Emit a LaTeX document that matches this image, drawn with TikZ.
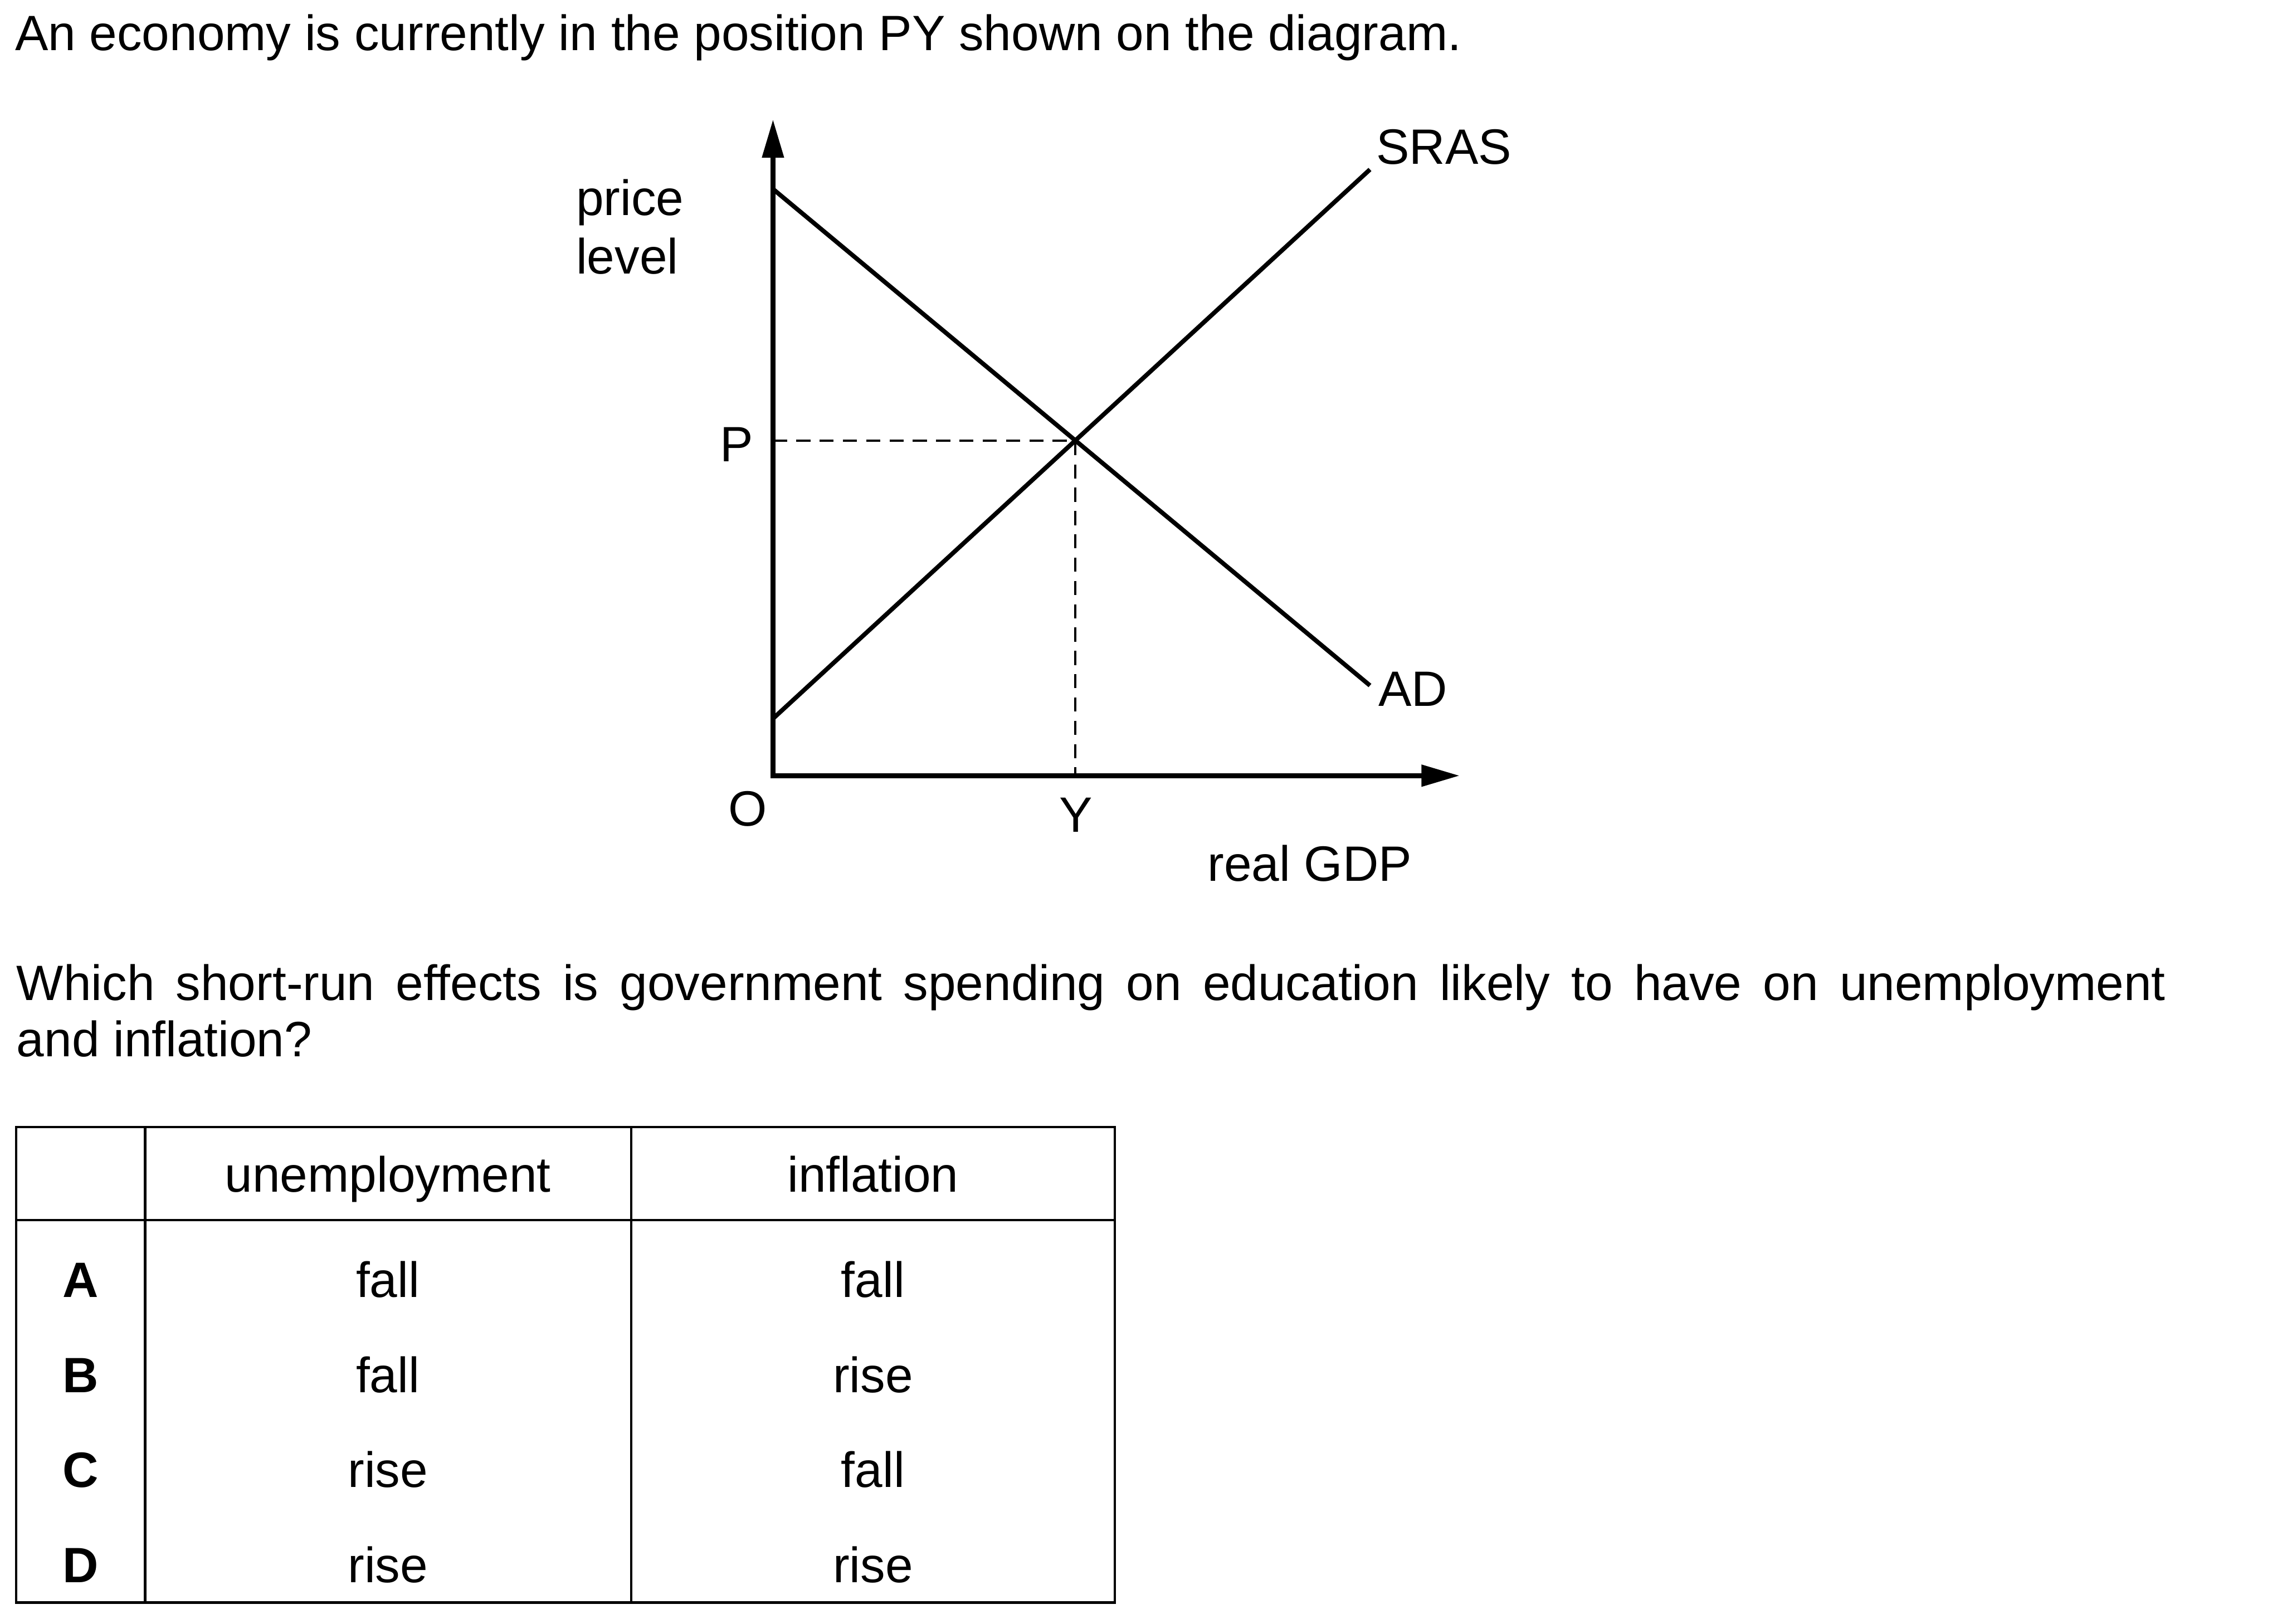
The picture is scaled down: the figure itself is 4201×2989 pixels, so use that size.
\documentclass[tikz,border=0pt]{standalone}
\usepackage{fontspec}
\setmainfont{Liberation Sans}
\usetikzlibrary{arrows.meta}
\newcommand{\qfont}{\fontsize{26}{30.7}\selectfont}

\begin{document}
\begin{tikzpicture}[x=0.01cm,y=-0.01cm,>={Triangle[length=20pt,width=11pt]},
    every node/.style={inner sep=0pt,font=\qfont},
    axis/.style={line width=2.5pt},
    curve/.style={line width=2.3pt},
    guide/.style={line width=1.2pt,dash pattern=on 7.4pt off 4.8pt},
    rule/.style={line width=1.3pt}]
  \useasboundingbox (0,0) rectangle (4201,2989);
  \node[anchor=base west] (intro) at (27,93) {An economy is currently in the position PY shown on the diagram.};

  % axes
  \coordinate (O) at (1423,1428);
  \coordinate (ytop) at (1423,220);
  \coordinate (xend) at (2687,1428);
  \draw[axis,<->] (ytop) -- (O) -- (xend);

  % AD and SRAS
  \coordinate (ad1) at (1423,348);
  \coordinate (ad2) at (2522,1262);
  \coordinate (sras1) at (1423,1323);
  \coordinate (sras2) at (2522,312);
  \draw[curve] (ad1) -- (ad2);
  \draw[curve] (sras1) -- (sras2);
  \coordinate (E) at (intersection of ad1--ad2 and sras1--sras2);
  \coordinate (Pax) at (O |- E);
  \coordinate (Yax) at (E |- O);
  \draw[guide] (Pax) -- (E) -- (Yax);

  % labels
  \node[anchor=north west,align=left] (price) at (1060,329) {price\\level};
  \node[anchor=base] (plbl) at (1356,850) {P};
  \node[anchor=base] (olbl) at (1377,1521) {O};
  \node[anchor=base] (ylbl) at (1981,1532) {Y};
  \node[anchor=base] (gdp) at (2411,1622) {real GDP};
  \node[anchor=base west] (sraslbl) at (2533,302) {SRAS};
  \node[anchor=base west] (adlbl) at (2537,1300) {AD};

  % question
  \node[anchor=base west,text width=39.54cm,align=justify,font=\fontsize{26}{29.3}\selectfont] (question) at (30,1842)
    {Which short-run effects is government spending on education likely to have on unemployment\linebreak and inflation?};

  % table
  \coordinate (tl) at (30,2075);
  \coordinate (br) at (2052,2950);
  \draw[rule] (tl) rectangle (br);
  \draw[rule] (tl |- 0,2246) -- (br |- 0,2246);
  \draw[rule] (267,2075) -- (267,2950);
  \draw[rule] (1162,2075) -- (1162,2950);
  \node[anchor=base] (hunemp) at (714,2194) {unemployment};
  \node[anchor=base] (hinfl) at (1607,2194) {inflation};
  \foreach \opt/\une/\ifl [count=\k] in {A/fall/fall,B/fall/rise,C/rise/fall,D/rise/rise}{
    \node[anchor=base,font=\qfont\bfseries] (opt\k) at (148,{2214+174.7*\k}) {\opt};
    \node[anchor=base] (une\k) at (714,{2214+174.7*\k}) {\une};
    \node[anchor=base] (ifl\k) at (1607,{2214+174.7*\k}) {\ifl};
  }
\end{tikzpicture}
\end{document}
